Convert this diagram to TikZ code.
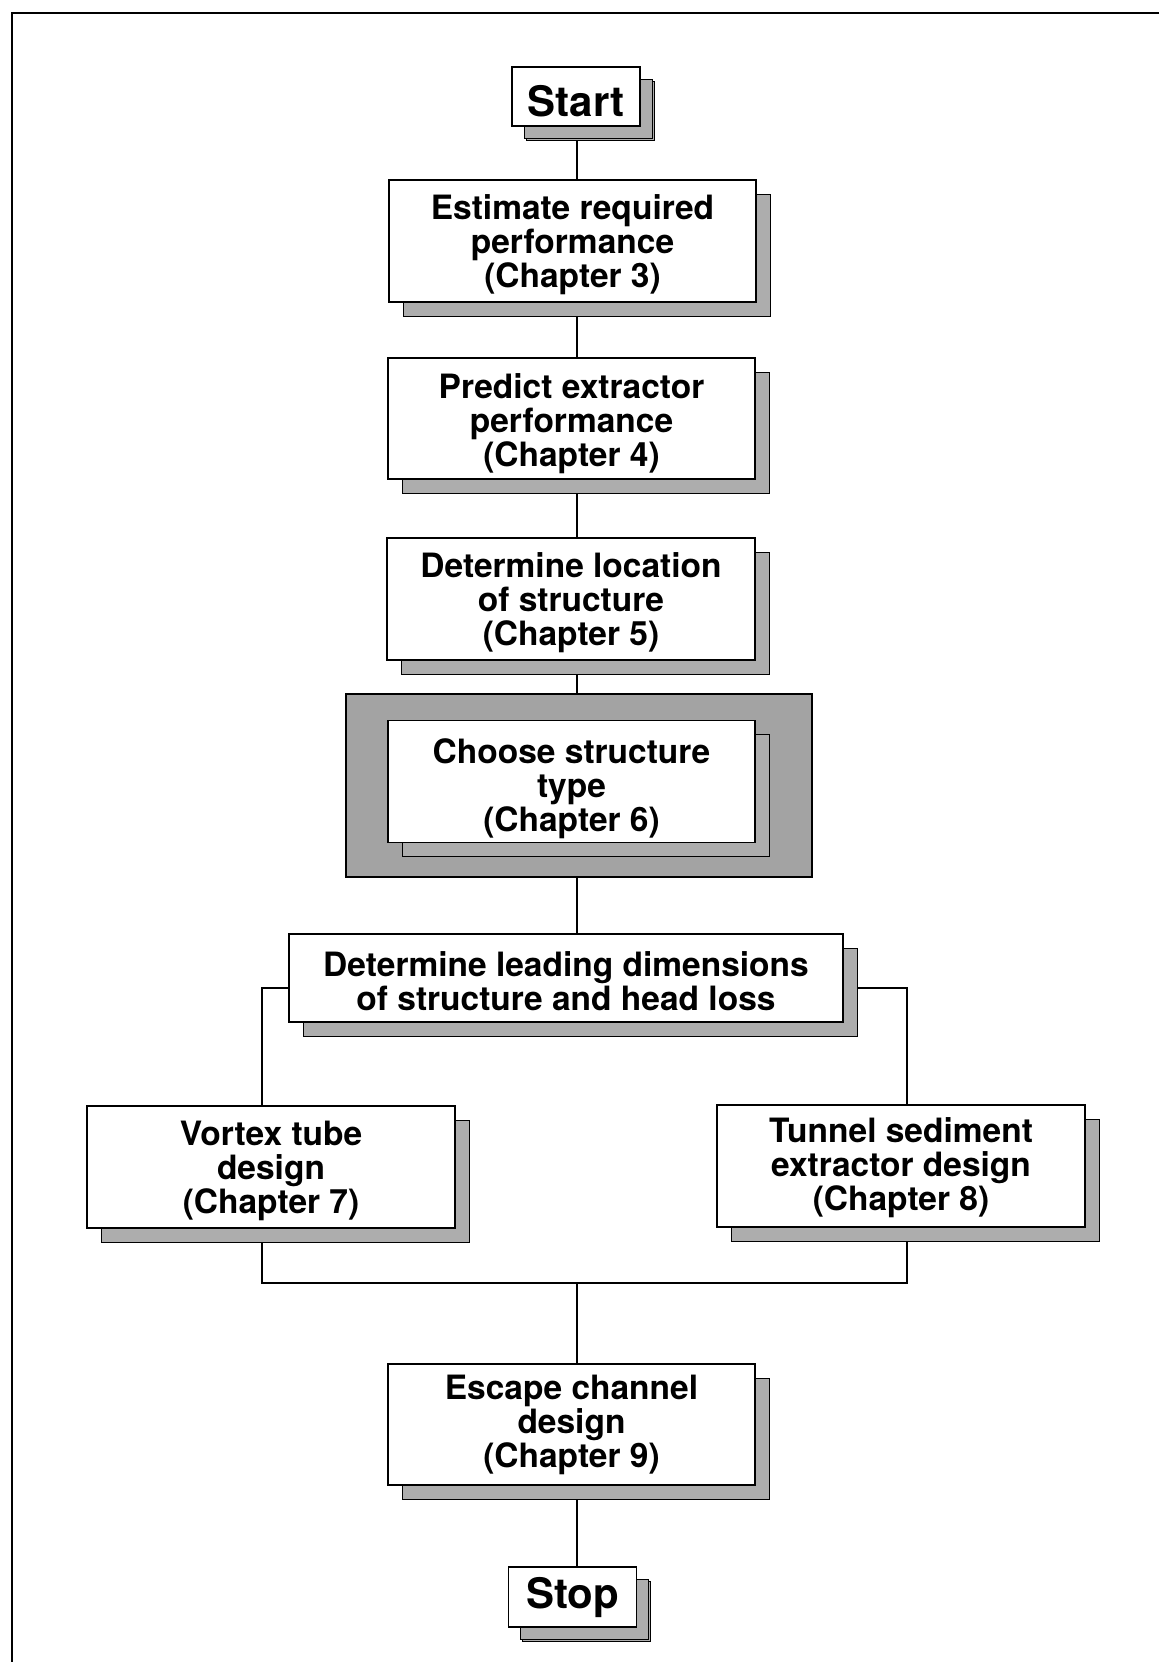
\documentclass[tikz,border=0pt]{standalone}
\usepackage{fontspec}
\setmainfont{TeX Gyre Heros}
\usetikzlibrary{shadows,backgrounds}
\definecolor{shadowgray}{gray}{0.68}
\definecolor{outergray}{gray}{0.64}
\newcommand{\toppad}[1]{\rule{0pt}{#1pt}}
\begin{document}
\begin{tikzpicture}[x=1pt,y=-1pt,
  boxstyle/.style={draw=black, fill=white, line width=1.6pt, align=center,
    inner sep=4pt, font=\bfseries\fontsize{33.5}{34}\selectfont,
    drop shadow={shadow xshift=14pt, shadow yshift=-14pt, opacity=1,
      fill=shadowgray, draw=black, line width=1pt}},
  termstyle/.style={boxstyle, inner sep=2pt, font=\bfseries\fontsize{42}{44}\selectfont,
    drop shadow={shadow xshift=12pt, shadow yshift=-12pt, opacity=1,
      fill=shadowgray, draw=black, line width=1pt}},
  conn/.style={draw=black, line width=1.3pt}]
\useasboundingbox (0,0) rectangle (1159,1662);
\draw[line width=2pt] (1159,13) -- (12,13) -- (12,1662);

\coordinate (sx) at (577,0);
\coordinate (lx) at (262,0);
\coordinate (rx) at (907,0);
\coordinate (by) at (0,988);
\coordinate (my) at (0,1283);

\node[termstyle, minimum width=128pt, minimum height=59pt] (start) at (576,96.5) {\toppad{41}Start};
\node[boxstyle, minimum width=367pt, minimum height=122pt] (b1) at (572.5,241)
  {\toppad{33}Estimate required\\performance\\(Chapter 3)};
\node[boxstyle, minimum width=367pt, minimum height=121pt] (b2) at (571.5,418.5)
  {\toppad{36}Predict extractor\\performance\\(Chapter 4)};
\node[boxstyle, minimum width=368pt, minimum height=122pt] (b3) at (571,599)
  {\toppad{33}Determine location\\of structure\\(Chapter 5)};
\node[draw=black, fill=outergray, line width=1.6pt, minimum width=466pt, minimum height=183pt] (outer) at (579,785.5) {};
\node[boxstyle, minimum width=367pt, minimum height=121pt] (b4) at (571.5,781.5)
  {\toppad{39}Choose structure\\type\\(Chapter 6)};
\node[boxstyle, minimum width=554pt, minimum height=88pt] (b5) at (566,978)
  {\toppad{31}Determine leading dimensions\\of structure and head loss};
\node[boxstyle, minimum width=368pt, minimum height=122pt] (b6) at (271,1167)
  {\toppad{32}Vortex tube\\design\\(Chapter 7)};
\node[boxstyle, minimum width=368pt, minimum height=122pt] (b7) at (901,1166)
  {\toppad{29}Tunnel sediment\\extractor design\\(Chapter 8)};
\node[boxstyle, minimum width=367pt, minimum height=121pt] (b8) at (571.5,1424.5)
  {Escape channel\\design\\(Chapter 9)};
\node[termstyle, minimum width=128pt, minimum height=60pt] (stop) at (572.5,1597) {Stop};

\begin{pgfonlayer}{background}
\draw[conn] (start.south -| sx) -- (b1.north -| sx);
\draw[conn] (b1.south -| sx) -- (b2.north -| sx);
\draw[conn] (b2.south -| sx) -- (b3.north -| sx);
\draw[conn] (b3.south -| sx) -- (outer.north -| sx);
\draw[conn] (outer.south -| sx) -- (b5.north -| sx);
\draw[conn] (b5.west |- by) -| (b6.north -| lx);
\draw[conn] (b5.east |- by) -| (b7.north -| rx);
\draw[conn] (b6.south -| lx) -- (lx |- my) -- (rx |- my) -- (b7.south -| rx);
\draw[conn] (sx |- my) -- (b8.north -| sx);
\draw[conn] (b8.south -| sx) -- (stop.north -| sx);
\end{pgfonlayer}
\end{tikzpicture}
\end{document}
